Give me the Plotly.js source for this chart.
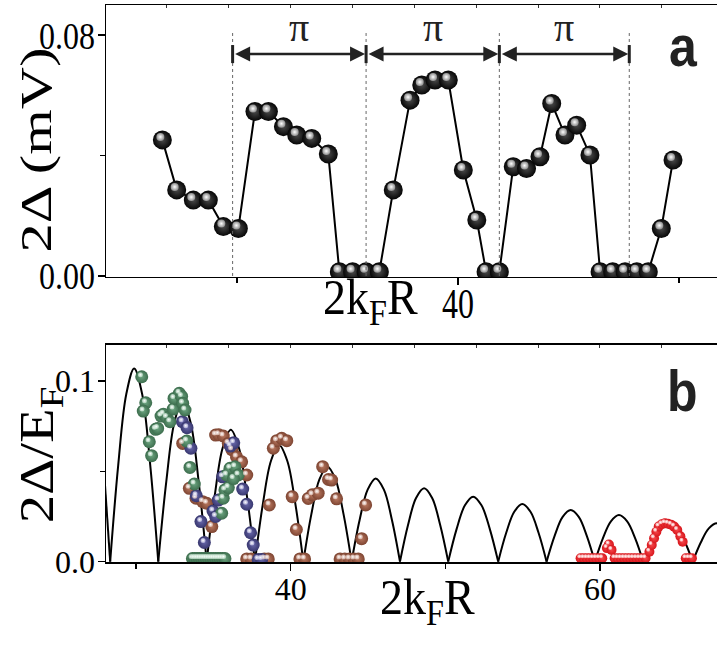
<!DOCTYPE html>
<html><head><meta charset="utf-8">
<script src="https://cdn.plot.ly/plotly-3.0.1.min.js"></script>
<style>html,body{margin:0;padding:0;background:#fff;}#chart{width:717px;height:645px;}</style>
</head><body><div id="chart"></div>
<script>
// ---------- panel a data ----------
const topX = [26.62, 27.27, 28.02, 28.70, 29.38, 30.06, 30.81, 31.42, 32.10, 32.70, 33.38, 34.13,
  34.63, 35.23, 35.84, 36.44,
  37.07, 37.83, 38.36, 38.96, 39.56, 40.24, 40.85,
  41.27, 41.87,
  42.50, 43.10, 43.71, 44.24, 44.84, 45.37, 45.97,
  46.43, 47.00, 47.56, 48.09, 48.61,
  49.20, 49.73];
const topY = [0.0452, 0.0286, 0.0252, 0.0252, 0.0164, 0.0158, 0.0546, 0.0546, 0.0496, 0.0468, 0.0457, 0.0405,
  0.0014, 0.0014, 0.0014, 0.0014,
  0.0286, 0.0584, 0.0634, 0.0651, 0.0651, 0.0352, 0.0186,
  0.0014, 0.0014,
  0.0363, 0.0357, 0.0396, 0.0573, 0.0468, 0.0501, 0.0402,
  0.0014, 0.0014, 0.0014, 0.0014, 0.0014,
  0.0158, 0.0385];
const piBounds = [29.80, 35.84, 41.87, 47.75];
const piLabel = 'π';

// ---------- panel b data ----------
const curveX = [27.95, 28.33, null,
  28.33, 28.85, 29.37, 29.88, 30.40, 30.92, 31.44, null,
  31.44, 31.96, 32.48, 33.00, 33.53, 34.05, 34.57, null,
  34.57, 35.09, 35.61, 36.13, 36.65, 37.17, 37.69, null,
  37.69, 38.21, 38.73, 39.25, 39.78, 40.30, 40.82, null,
  40.82, 41.34, 41.86, 42.38, 42.90, 43.42, 43.94, null,
  43.94, 44.46, 44.98, 45.50, 46.03, 46.55, 47.07, null,
  47.07, 47.59, 48.11, 48.63, 49.15, 49.67, 50.19, null,
  50.19, 50.73, 51.27, 51.80, 52.34, 52.88, 53.42, null,
  53.42, 53.94, 54.46, 54.98, 55.51, 56.03, 56.55, null,
  56.55, 57.07, 57.59, 58.11, 58.63, 59.15, 59.67, null,
  59.67, 60.19, 60.71, 61.23, 61.76, 62.28, 62.80, null,
  62.80, 63.33, 63.87, 64.40, 64.93, 65.47, 66.00, null,
  66.00, 66.52, 67.04, 67.56, 68.08, 68.60, 69.12];
const curveY = [0.048, 0, null,
  0, 0.0535, 0.0927, 0.107, 0.0927, 0.0535, 0, null,
  0, 0.0445, 0.0771, 0.089, 0.0771, 0.0445, 0, null,
  0, 0.0365, 0.0632, 0.073, 0.0632, 0.0365, 0, null,
  0, 0.0323, 0.0559, 0.0646, 0.0559, 0.0323, 0, null,
  0, 0.0263, 0.0456, 0.0526, 0.0456, 0.0263, 0, null,
  0, 0.0231, 0.0399, 0.0461, 0.0399, 0.0231, 0, null,
  0, 0.0203, 0.0352, 0.0406, 0.0352, 0.0203, 0, null,
  0, 0.018, 0.0312, 0.036, 0.0312, 0.018, 0, null,
  0, 0.016, 0.0276, 0.0319, 0.0276, 0.016, 0, null,
  0, 0.0143, 0.0248, 0.0286, 0.0248, 0.0143, 0, null,
  0, 0.0129, 0.0223, 0.0258, 0.0223, 0.0129, 0, null,
  0, 0.0114, 0.0197, 0.0227, 0.0197, 0.0114, 0, null,
  0, 0.0106, 0.0184, 0.0212, 0.0184, 0.0106, 0];

const greenX = [30.37, 30.63, 30.47, 30.86, 31.01, 31.27, 31.40, 31.62, 31.77, 31.98, 32.20, 32.41, 32.46, 32.80, 32.95, 33.02, 33.17, 33.28, 33.49, 33.77,
  33.65, 33.80, 33.95, 34.10, 34.25, 34.40, 34.55, 34.70, 34.85, 35.00, 35.15, 35.30, 35.45, 35.60, 35.75,
  35.54, 35.64, 35.75, 35.97, 35.86, 36.08, 36.40, 36.61, 36.30];
const greenY = [0.1024, 0.088, 0.0834, 0.0664, 0.0587, 0.0733, 0.0738, 0.0806, 0.0817, 0.0799, 0.0775, 0.0845, 0.0904, 0.0932, 0.0915, 0.0877, 0.084, 0.0668, 0.0522, 0.043,
  0.0017, 0.0017, 0.0017, 0.0017, 0.0017, 0.0017, 0.0017, 0.0017, 0.0017, 0.0017, 0.0017, 0.0017, 0.0017, 0.0017, 0.0017,
  0.0268, 0.0351, 0.0397, 0.041, 0.048, 0.0517, 0.0525, 0.048, 0.046];

const purpleX = [33.00, 33.30, 33.55, 33.90, 34.20, 34.42, 34.98, 35.15, 35.32, 35.60, 36.10, 36.32, 36.90, 37.16, 37.41, 37.58, 37.90, 38.12];
const purpleY = [0.0775, 0.0742, 0.0628, 0.0365, 0.0222, 0.0106, 0.028, 0.025, 0.0341, 0.047, 0.064, 0.0658, 0.0402, 0.0318, 0.016, 0.0092, 0.0012, 0.0012];

const brownX = [33.02, 33.45, 33.88, 34.31, 34.57, 34.90,
  35.15, 35.35, 35.64, 35.97, 36.20, 36.50, 36.83, 37.16,
  37.16, 37.45, 38.30, 38.55,
  38.62, 38.88, 39.10, 39.42, 39.75, 40.10, 40.37,
  40.60, 40.90,
  41.14, 41.40, 41.78, 42.07, 42.45, 42.65, 42.97,
  43.20, 43.50, 43.80, 44.10, 44.37,
  44.59, 44.85];
const brownY = [0.0655, 0.0406, 0.0351, 0.0332, 0.0323, 0.0194,
  0.0701, 0.0703, 0.0696, 0.0655, 0.062, 0.058, 0.0553, 0.048,
  0.0015, 0.0015, 0.0015, 0.0015,
  0.0314, 0.0628, 0.067, 0.0683, 0.067, 0.036, 0.0178,
  0.0015, 0.0015,
  0.035, 0.037, 0.0379, 0.0526, 0.0455, 0.0452, 0.0348,
  0.0015, 0.0015, 0.0015, 0.0015, 0.0015,
  0.0127, 0.0314];

const redX = [58.75, 58.95, 59.15, 59.35, 59.55, 59.75, 59.95, 60.15,
  60.45, 60.58, 60.75,
  60.95, 61.15, 61.35, 61.55, 61.75, 61.95, 62.15, 62.35, 62.55, 62.75, 62.95,
  63.20, 63.35, 63.50, 63.65, 63.80, 64.00, 64.20, 64.40, 64.60, 64.80, 65.00, 65.20, 65.35,
  65.55, 65.75, 65.95];
const redY = [0.0019, 0.0019, 0.0019, 0.0019, 0.0019, 0.0019, 0.0019, 0.0019,
  0.0075, 0.0095, 0.0065,
  0.0019, 0.0019, 0.0019, 0.0019, 0.0019, 0.0019, 0.0019, 0.0019, 0.0019, 0.0019, 0.0019,
  0.0055, 0.0092, 0.013, 0.0166, 0.0194, 0.0207, 0.0212, 0.021, 0.0205, 0.0194, 0.0175, 0.014, 0.011,
  0.0019, 0.0019, 0.0019];

// ---------- layout geometry ----------
const SERIF = 'Liberation Serif, Times New Roman, serif';
const SANS = 'Liberation Sans, Arial, sans-serif';
const W = 717, H = 645, M = {l: 106, r: 0, t: 5, b: 83};
const PW = W - M.l - M.r, PH = H - M.t - M.b;
const topDom = [0.5117, 1], botDom = [0, 0.3896];
const xTopR = [24.07, 51.72], yTopR = [-0.00033, 0.09];
const xBotR = [28.06, 67.57], yBotR = [-0.0002, 0.12];
const upp = (r, px) => (r[1] - r[0]) / px;
const shift = (r, d) => [r[0] + d, r[1] + d];
const uxT = upp(xTopR, PW), uyT = upp(yTopR, PH * (topDom[1] - topDom[0]));
const uxB = upp(xBotR, PW), uyB = upp(yBotR, PH * (botDom[1] - botDom[0]));

const axBase = {showgrid: false, zeroline: false, showline: true, linecolor: 'black', linewidth: 1.5,
  ticks: 'outside', tickcolor: 'black', tickwidth: 1.5, ticklen: 7,
  tickfont: {family: SERIF, size: 32, color: 'black'}};
const minorT = d => ({dtick: d, ticks: 'outside', ticklen: 5, tickcolor: 'black', tickwidth: 1.2});
const topTicks = (over, anch) => ({overlaying: over, anchor: anch, side: 'top', range: xBotR, tick0: 0, dtick: 4,
  ticks: 'inside', ticklen: 3, tickcolor: '#333', tickwidth: 1, showticklabels: false,
  showline: true, linecolor: 'black', linewidth: 1.5, showgrid: false, zeroline: false});
const hidden = (over, r) => ({overlaying: over, range: r, visible: false, showgrid: false, zeroline: false});

const ball = (color, center, size) => ({size: size, color: color, line: {width: 0},
  gradient: {type: 'radial', color: center}});

const data = [
  {x: curveX, y: curveY, xaxis: 'x2', yaxis: 'y2', mode: 'lines', connectgaps: false,
   line: {color: 'black', width: 2, shape: 'spline', smoothing: 1}, hoverinfo: 'skip'},
  {x: brownX, y: brownY, xaxis: 'x2', yaxis: 'y2', mode: 'markers', marker: ball('#7e4532', '#b8775f', 13)},
  {x: purpleX, y: purpleY, xaxis: 'x2', yaxis: 'y2', mode: 'markers', marker: ball('#38376f', '#6766a8', 13)},
  {x: greenX, y: greenY, xaxis: 'x2', yaxis: 'y2', mode: 'markers', marker: ball('#3c6d4d', '#6ca480', 13)},
  {x: redX, y: redY, xaxis: 'x2', yaxis: 'y2', mode: 'markers', marker: ball('#d8161c', '#f5474b', 10)},
  // highlights (bottom)
  {x: brownX, y: brownY, xaxis: 'x6', yaxis: 'y6', mode: 'markers', marker: ball('rgba(230,200,190,0.7)', '#ffffff', 5)},
  {x: purpleX, y: purpleY, xaxis: 'x6', yaxis: 'y6', mode: 'markers', marker: ball('rgba(200,200,235,0.7)', '#ffffff', 5)},
  {x: greenX, y: greenY, xaxis: 'x6', yaxis: 'y6', mode: 'markers', marker: ball('rgba(200,230,210,0.7)', '#ffffff', 5)},
  {x: redX, y: redY, xaxis: 'x6', yaxis: 'y6', mode: 'markers', marker: ball('rgba(255,200,200,0.7)', '#ffffff', 4)},
  // panel a
  {x: topX, y: topY, xaxis: 'x', yaxis: 'y', mode: 'lines+markers',
   line: {color: 'black', width: 2}, marker: ball('#050505', '#4a4a4a', 19)},
  {x: topX, y: topY, xaxis: 'x5', yaxis: 'y5', mode: 'markers', marker: ball('#8c8c8c', '#ffffff', 8)},
  // empty carriers so the top-tick axes exist
  {x: [], y: [], xaxis: 'x3', yaxis: 'y', mode: 'markers', hoverinfo: 'skip'},
  {x: [], y: [], xaxis: 'x4', yaxis: 'y2', mode: 'markers', hoverinfo: 'skip'}
];

const shapes = [];
piBounds.forEach(b => {
  shapes.push({type: 'line', xref: 'x', yref: 'y', x0: b, x1: b, y0: 0, y1: 0.0807,
    line: {color: '#666', width: 1, dash: 'dot'}, layer: 'above'});
  shapes.push({type: 'line', xref: 'x', yref: 'y', x0: b, x1: b, y0: 0.0707, y1: 0.0767,
    line: {color: '#222', width: 3}, layer: 'above'});
});

const annotations = [];
for (let i = 0; i < piBounds.length - 1; i++) {
  annotations.push({xref: 'x', yref: 'y', axref: 'x', ayref: 'y', x: piBounds[i + 1], y: 0.0737,
    ax: piBounds[i], ay: 0.0737, text: '', showarrow: true, arrowside: 'end+start',
    arrowhead: 2, startarrowhead: 2, arrowsize: 1.2, startarrowsize: 1.2, arrowwidth: 2.5,
    arrowcolor: '#222', standoff: 1, startstandoff: 1});
  annotations.push({xref: 'x', yref: 'y', x: (piBounds[i] + piBounds[i + 1]) / 2, y: 0.0745,
    xanchor: 'center', yanchor: 'bottom', text: piLabel, showarrow: false,
    font: {family: SERIF, size: 40, color: '#222'}});
}
const pxX = px => (px - M.l) / PW;
const pxY = py => (H - M.b - py) / PH;
// stretch instructions: [annotation index, local axis, factor, target length]
const stretch = [];
const addAnn = (a, st) => { annotations.push(a); if (st) stretch.push([annotations.length - 1].concat(st)); };
addAnn({xref: 'paper', yref: 'paper', x: pxX(683), y: pxY(46), xanchor: 'center', yanchor: 'middle',
  text: '<b>a</b>', showarrow: false, font: {family: SANS, size: 50, color: '#222'}}, ['y', 1.15, null]);
addAnn({xref: 'paper', yref: 'paper', x: pxX(682), y: pxY(391), xanchor: 'center', yanchor: 'middle',
  text: '<b>b</b>', showarrow: false, font: {family: SANS, size: 50, color: '#222'}}, ['y', 1.15, null]);
addAnn({xref: 'paper', yref: 'paper', x: pxX(37), y: pxY(150), xanchor: 'center', yanchor: 'middle',
  text: '2Δ (mV)', textangle: -90, showarrow: false,
  font: {family: SERIF, size: 44, color: 'black'}}, ['x', null, 205]);
addAnn({xref: 'paper', yref: 'paper', x: pxX(40), y: pxY(455), xanchor: 'center', yanchor: 'middle',
  text: '2Δ/E<sub>F</sub>', textangle: -90, showarrow: false,
  font: {family: SERIF, size: 48, color: 'black'}}, ['x', null, 137]);
addAnn({xref: 'paper', yref: 'paper', x: pxX(370), y: pxY(270), xanchor: 'center', yanchor: 'top',
  text: '2k<sub>F</sub>R', showarrow: false, font: {family: SERIF, size: 46, color: 'black'}}, ['y', 1.1, null]);
addAnn({xref: 'paper', yref: 'paper', x: pxX(427), y: pxY(570), xanchor: 'center', yanchor: 'top',
  text: '2k<sub>F</sub>R', showarrow: false, font: {family: SERIF, size: 46, color: 'black'}}, ['y', 1.1, null]);

const layout = {
  width: W, height: H, margin: M, showlegend: false,
  paper_bgcolor: 'white', plot_bgcolor: 'rgba(0,0,0,0)',
  xaxis: Object.assign({}, axBase, {domain: [0, 1], anchor: 'y', range: xTopR, tick0: 0, dtick: 20,
    ticklabelstandoff: -9, minor: minorT(10)}),
  yaxis: Object.assign({}, axBase, {domain: topDom, anchor: 'x', range: yTopR, tick0: 0, dtick: 0.08, tickformat: '.2f',
    ticklabelstandoff: -4, minor: minorT(0.04)}),
  xaxis2: Object.assign({}, axBase, {domain: [0, 1], anchor: 'y2', range: xBotR, tick0: 0, dtick: 20,
    ticklabelstandoff: -9, minor: minorT(10)}),
  yaxis2: Object.assign({}, axBase, {domain: botDom, anchor: 'x2', range: yBotR, tick0: 0, dtick: 0.1, tickformat: '.1f',
    ticklabelstandoff: -4, minor: minorT(0.05)}),
  xaxis3: topTicks('x', 'y'),
  xaxis4: topTicks('x2', 'y2'),
  xaxis5: hidden('x', shift(xTopR, 2 * uxT)),
  yaxis5: hidden('y', shift(yTopR, -3 * uyT)),
  xaxis6: hidden('x2', shift(xBotR, 1.3 * uxB)),
  yaxis6: hidden('y2', shift(yBotR, -2 * uyB)),
  shapes: shapes, annotations: annotations
};

function stretchText(el, axis, factor, target) {
  const bb = el.getBBox();
  if (!bb || !bb.width) return;
  const old = el.getAttribute('transform') || '';
  if (axis === 'x') {
    const f = target ? target / bb.width : factor;
    const cx = bb.x + bb.width / 2;
    el.setAttribute('transform', old + ' translate(' + cx + ',0) scale(' + f + ',1) translate(' + (-cx) + ',0)');
  } else {
    const cy = bb.y + bb.height / 2;
    el.setAttribute('transform', old + ' translate(0,' + cy + ') scale(1,' + factor + ') translate(0,' + (-cy) + ')');
  }
}

Plotly.newPlot('chart', data, layout, {staticPlot: true, displayModeBar: false}).then(gd => {
  // reference type is drawn taller than wide: stretch tick labels vertically
  gd.querySelectorAll('g.ytick > text').forEach(t => stretchText(t, 'y', 1.2, null));
  gd.querySelectorAll('g.xtick > text').forEach(t => stretchText(t, 'y', 1.3, null));
  stretch.forEach(([idx, axis, factor, target]) => {
    const t = gd.querySelector('g.annotation[data-index="' + idx + '"] text.annotation-text');
    if (t) stretchText(t, axis, factor, target);
  });
});
</script></body></html>
